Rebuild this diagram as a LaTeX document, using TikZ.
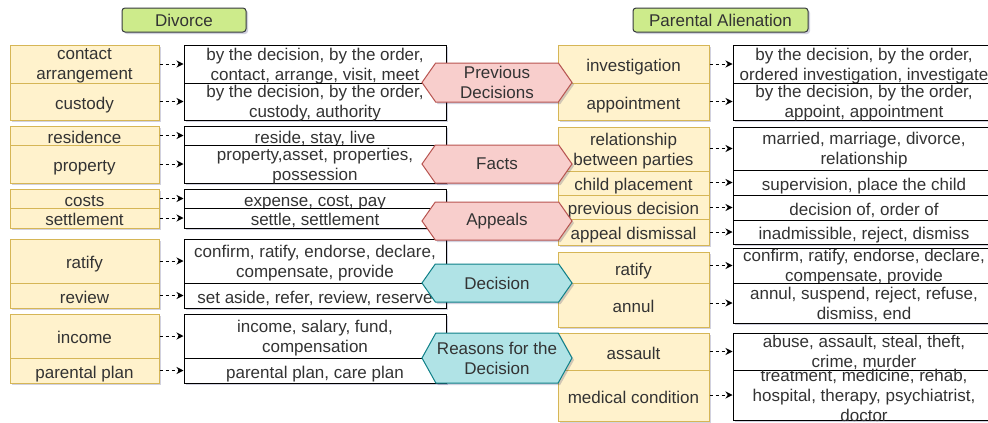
\documentclass[tikz,border=0pt]{standalone}
\usepackage{fontspec}
\setmainfont{Liberation Sans}
\usetikzlibrary{shapes.symbols, arrows.meta, shadows}
\definecolor{kwfill}{HTML}{FFF2CC}
\definecolor{kwline}{HTML}{D6B656}
\definecolor{rdfill}{HTML}{F8CECC}
\definecolor{rdline}{HTML}{B85450}
\definecolor{blfill}{HTML}{B0E3E6}
\definecolor{blline}{HTML}{0E8088}
\definecolor{grfill}{HTML}{CDEB8B}
\definecolor{grline}{HTML}{36393D}
\begin{document}
\begin{tikzpicture}[x=1pt, y=-1pt, font=\fontsize{17}{20}\selectfont, text=black!80,
  sh/.style={drop shadow={shadow xshift=2pt, shadow yshift=-2pt, opacity=0.18, fill=black!70!blue}},
  bx/.style={line width=1pt, align=center, inner xsep=1pt, inner ysep=-4pt, text depth=-2.4pt, execute at begin node={\rule{0pt}{15pt}}, sh},
  kw/.style={bx, draw=kwline, fill=kwfill},
  tw/.style={bx, draw=black, fill=white, minimum width=262},
  hx/.style={shape=signal, signal to=west and east, signal pointer angle=110, minimum width=150, line width=1pt, inner sep=0pt, align=center, sh},
  hr/.style={hx, draw=rdline, fill=rdfill},
  hb/.style={hx, draw=blline, fill=blfill},
  ttl/.style={draw=grline, fill=grfill, line width=1pt, rounded corners=3pt, minimum height=24, inner sep=0pt, sh},
  lnk/.style={dash pattern=on 3pt off 3pt, line width=1pt, -{Stealth[length=7pt, width=7pt]}}]
  \useasboundingbox (0,0) rectangle (988,423);

  % titles
  \node[ttl, minimum width=124] (dv) at (184,20) {Divorce};
  \node[ttl, minimum width=175] (pa) at (720.5,20) {Parental Alienation};

  % divorce keywords
  \node[kw, minimum width=149, minimum height=38] (ca) at (84.5,64) {contact\\arrangement};
  \node[kw, minimum width=149, minimum height=37] (cu) at (84.5,101.5) {custody};
  \node[kw, minimum width=149, minimum height=19] (re) at (84.5,135.5) {residence};
  \node[kw, minimum width=149, minimum height=38] (pr) at (84.5,164) {property};
  \node[kw, minimum width=149, minimum height=19] (co) at (84.5,198.5) {costs};
  \node[kw, minimum width=149, minimum height=20] (se) at (84.5,218) {settlement};
  \node[kw, minimum width=149, minimum height=44] (rl) at (84.5,261) {ratify};
  \node[kw, minimum width=149, minimum height=25] (rv) at (84.5,295.5) {review};
  \node[kw, minimum width=149, minimum height=44] (ic) at (84.5,336) {income};
  \node[kw, minimum width=149, minimum height=25] (pp) at (84.5,370.5) {parental plan};

  % divorce terms
  \node[tw, minimum height=38] (tca) at (315,64) {by the decision, by the order,\\contact, arrange, visit, meet};
  \node[tw, minimum height=37] (tcu) at (315,101.5) {by the decision, by the order,\\custody, authority};
  \node[tw, minimum height=19] (tre) at (315,135.5) {reside, stay, live};
  \node[tw, minimum height=38] (tpr) at (315,164) {property,asset, properties,\\possession};
  \node[tw, minimum height=19] (tco) at (315,198.5) {expense, cost, pay};
  \node[tw, minimum height=20] (tse) at (315,218) {settle, settlement};
  \node[tw, minimum height=44] (trl) at (315,261) {confirm, ratify, endorse, declare,\\compensate, provide};
  \node[tw, minimum height=25] (trv) at (315,295.5) {set aside, refer, review, reserve};
  \node[tw, minimum height=44] (tic) at (315,336) {income, salary, fund,\\compensation};
  \node[tw, minimum height=25] (tpp) at (315,370.5) {parental plan, care plan};

  % parental alienation keywords
  \node[kw, minimum width=151, minimum height=38] (iv) at (633.5,64) {investigation};
  \node[kw, minimum width=151, minimum height=37] (ap) at (633.5,101.5) {appointment};
  \node[kw, minimum width=151, minimum height=44] (rb) at (633.5,149) {relationship\\between parties};
  \node[kw, minimum width=151, minimum height=24] (cp) at (633.5,183) {child placement};
  \node[kw, minimum width=151, minimum height=24] (pv) at (633.5,207) {previous decision};
  \node[kw, minimum width=151, minimum height=26] (ad) at (633.5,232) {appeal dismissal};
  \node[kw, minimum width=151, minimum height=31] (rr) at (633.5,267.5) {ratify};
  \node[kw, minimum width=151, minimum height=44] (an) at (633.5,305) {annul};
  \node[kw, minimum width=151, minimum height=37] (as) at (633.5,351.5) {assault};
  \node[kw, minimum width=151, minimum height=51] (mc) at (633.5,395.5) {medical condition};

  % parental alienation terms
  \node[tw, minimum height=38] (tiv) at (864,64) {by the decision, by the order,\\ordered investigation, investigate};
  \node[tw, minimum height=37] (tap) at (864,101.5) {by the decision, by the order,\\appoint, appointment};
  \node[tw, minimum height=43] (trb) at (864,148.5) {married, marriage, divorce,\\relationship};
  \node[tw, minimum height=25] (tcp) at (864,182.5) {supervision, place the child};
  \node[tw, minimum height=25] (tpv) at (864,207.5) {decision of, order of};
  \node[tw, minimum height=24] (tad) at (864,232) {inadmissible, reject, dismiss};
  \node[tw, minimum height=35] (trr) at (864,265.5) {confirm, ratify, endorse, declare,\\compensate, provide};
  \node[tw, minimum height=40] (tan) at (864,303) {annul, suspend, reject, refuse,\\dismiss, end};
  \node[tw, minimum height=37] (tas) at (864,351.5) {abuse, assault, steal, theft,\\crime, murder};
  \node[tw, minimum height=50, text depth=-0.4pt] (tmc) at (864,395) {treatment, medicine, rehab,\\hospital, therapy, psychiatrist,\\doctor};

  % links
  \draw[lnk] (ca.east) -- (tca.west);
  \draw[lnk] (cu.east) -- (tcu.west);
  \draw[lnk] (re.east) -- (tre.west);
  \draw[lnk] (pr.east) -- (tpr.west);
  \draw[lnk] (co.east) -- (tco.west);
  \draw[lnk] (se.east) -- (tse.west);
  \draw[lnk] (rl.east) -- (trl.west);
  \draw[lnk] (rv.east) -- (trv.west);
  \draw[lnk] (ic.east) -- (tic.west);
  \draw[lnk] (pp.east) -- (tpp.west);
  \draw[lnk] (iv.east |- tiv.west) -- (tiv.west);
  \draw[lnk] (ap.east |- tap.west) -- (tap.west);
  \draw[lnk] (rb.east |- trb.west) -- (trb.west);
  \draw[lnk] (cp.east |- tcp.west) -- (tcp.west);
  \draw[lnk] (pv.east |- tpv.west) -- (tpv.west);
  \draw[lnk] (ad.east |- tad.west) -- (tad.west);
  \draw[lnk] (rr.east |- trr.west) -- (trr.west);
  \draw[lnk] (an.east |- tan.west) -- (tan.west);
  \draw[lnk] (as.east |- tas.west) -- (tas.west);
  \draw[lnk] (mc.east |- tmc.west) -- (tmc.west);

  % categories
  \node[hr, minimum height=39] (hpd) at (497,82.5) {Previous\\Decisions};
  \node[hr, minimum height=38] (hfa) at (497,164) {Facts};
  \node[hr, minimum height=38] (hap) at (497,221) {Appeals};
  \node[hb, minimum height=38] (hde) at (497,283) {Decision};
  \node[hb, minimum height=50, signal pointer angle=122] (hre) at (497,358) {Reasons for the\\Decision};
\end{tikzpicture}
\end{document}
